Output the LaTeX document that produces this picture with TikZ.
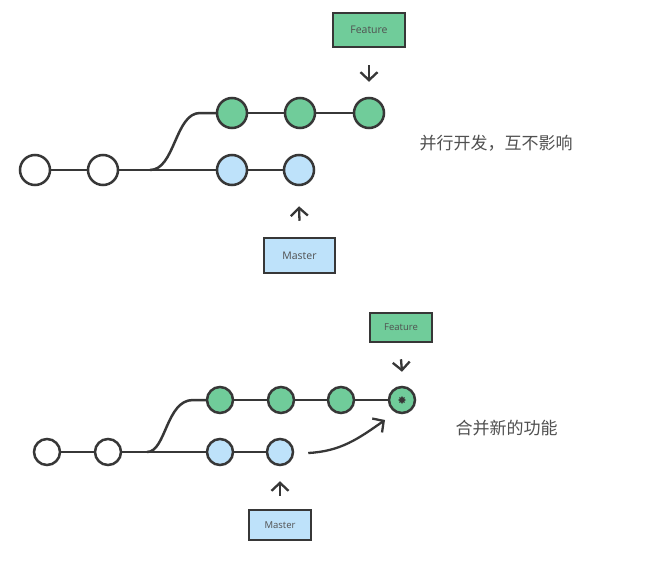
\documentclass[tikz,border=0pt]{standalone}
\usepackage{fontspec}
\setmainfont{Open Sans}
\newfontfamily\cjk{Noto Sans CJK SC}
\usetikzlibrary{arrows.meta,shapes.geometric}
\definecolor{gfill}{RGB}{112,204,154}
\definecolor{bfill}{RGB}{190,226,250}
\definecolor{ink}{RGB}{55,55,55}
\definecolor{txt}{RGB}{80,80,80}
\tikzset{
  commit/.style={circle,draw=ink,line width=2.5pt,inner sep=0pt,minimum size=#1},
  plain/.style={commit=#1,fill=white},
  gc/.style={commit=#1,fill=gfill},
  bc/.style={commit=#1,fill=bfill},
  lbox/.style={draw=ink,line width=2.5pt,inner sep=0pt,text=txt},
  edge/.style={draw=ink,line width=2.5pt},
  arr/.style={draw=ink,line width=2.3pt,-{Straight Barb[length=8pt,width=17pt,line width=2.3pt]}},
  note/.style={anchor=west,text=txt,font=\cjk\fontsize{17pt}{20pt}\selectfont}
}
\begin{document}
\begin{tikzpicture}[x=1pt,y=-1pt]
\useasboundingbox[fill=white] (0,0) rectangle (670,565);
% ---------- top diagram ----------
\node[plain=30pt] (t1) at (35,170) {};
\node[plain=30pt] (t2) at (103,170) {};
\node[gc=30pt] (tg1) at (232,113) {};
\node[gc=30pt] (tg2) at (300,113) {};
\node[gc=30pt] (tg3) at (369,113) {};
\node[bc=30pt] (tb1) at (232,170) {};
\node[bc=30pt] (tb2) at (299,170) {};
\coordinate (tfork) at (150,170);
\coordinate (tbend) at (200,113);
\draw[edge] (t1) -- (t2);
\draw[edge] (t2) -- (tb1);
\draw[edge] (tb1) -- (tb2);
\draw[edge] (tfork) .. controls (175,170) and (175,113) .. (tbend) -- (tg1);
\draw[edge] (tg1) -- (tg2);
\draw[edge] (tg2) -- (tg3);
\node[lbox,fill=gfill,minimum width=72pt,minimum height=34pt,font=\fontsize{10.5pt}{12pt}\selectfont] (tf) at (369,30) {Feature};
\node[lbox,fill=bfill,minimum width=71pt,minimum height=35pt,font=\fontsize{10.5pt}{12pt}\selectfont] (tm) at (299.5,255.5) {Master};
\draw[arr] ([yshift=-17pt]tf.south) -- ([yshift=15pt]tg3.north);
\draw[arr] ([yshift=16pt]tm.north) -- ([yshift=-20pt]tb2.south);
\node[note] (tn) at (416,143) {并行开发，互不影响};
% ---------- bottom diagram ----------
\node[plain=26pt] (m1) at (47,452) {};
\node[plain=26pt] (m2) at (108,452) {};
\node[gc=26pt] (mg1) at (220,400) {};
\node[gc=26pt] (mg2) at (281,400) {};
\node[gc=26pt] (mg3) at (341,400) {};
\node[gc=26pt] (mg4) at (402,400) {};
\node[star,star points=8,star point ratio=1.6,fill=ink,inner sep=0pt,minimum size=8pt] (dot) at (mg4.center) {};
\node[bc=26pt] (mb1) at (220,452) {};
\node[bc=26pt] (mb2) at (280,452) {};
\coordinate (mfork) at (147,452);
\coordinate (mbend) at (193,400);
\draw[edge] (m1) -- (m2);
\draw[edge] (m2) -- (mb1);
\draw[edge] (mb1) -- (mb2);
\draw[edge] (mfork) .. controls (166,452) and (166,400) .. (mbend) -- (mg1);
\draw[edge] (mg1) -- (mg2);
\draw[edge] (mg2) -- (mg3);
\draw[edge] (mg3) -- (mg4);
\node[lbox,fill=gfill,minimum width=62pt,minimum height=29pt,font=\fontsize{9.5pt}{11pt}\selectfont] (mf) at (401,327.5) {Feature};
\node[lbox,fill=bfill,minimum width=62pt,minimum height=30pt,font=\fontsize{9.5pt}{11pt}\selectfont] (mm) at (280,525) {Master};
\draw[arr] ([yshift=-16pt]mf.south) -- ([yshift=14pt]mg4.north);
\draw[arr] ([yshift=13pt]mm.north) -- ([yshift=-15pt]mb2.south);
\coordinate (cs) at ([xshift=14pt,yshift=-1pt]mb2.east);
\coordinate (ce) at ([shift={(-17pt,-20pt)}]mg4.center);
\draw[arr] (cs) to[out=3,in=-145] (ce);
\node[note] (mn) at (452,428) {合并新的功能};
\end{tikzpicture}
\end{document}
